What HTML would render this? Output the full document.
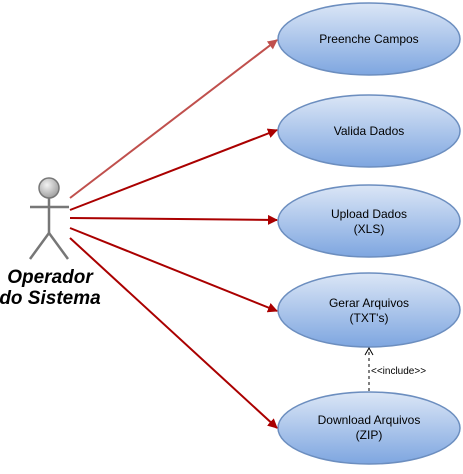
<!DOCTYPE html>
<html><head><style>body{margin:0;background:#fff}</style></head><body>
<svg width="463" height="469" viewBox="0 0 463 469" xmlns="http://www.w3.org/2000/svg" font-family="Liberation Sans, sans-serif">
<defs>
<linearGradient id="g" x1="0" y1="0" x2="0" y2="1"><stop offset="0" stop-color="#dbe6f6"/><stop offset="1" stop-color="#7ea6e0"/></linearGradient>
<radialGradient id="h" cx="0.4" cy="0.35" r="0.7"><stop offset="0" stop-color="#f2f2f2"/><stop offset="1" stop-color="#9a9a9a"/></radialGradient>
<marker id="a" markerWidth="10" markerHeight="10" refX="9" refY="5" orient="auto" markerUnits="userSpaceOnUse"><path d="M0,0 L10,5 L0,10 Z" fill="#a00"/></marker>
<marker id="a2" markerWidth="10" markerHeight="10" refX="9" refY="5" orient="auto" markerUnits="userSpaceOnUse"><path d="M0,0 L10,5 L0,10 Z" fill="#c0504d"/></marker>
</defs>
<g stroke="#6c8ebf" stroke-width="1.5" fill="url(#g)">
<ellipse cx="369" cy="39" rx="91" ry="36"/>
<ellipse cx="369" cy="131" rx="91" ry="36"/>
<ellipse cx="369" cy="221" rx="91" ry="36"/>
<ellipse cx="369" cy="310" rx="91" ry="37"/>
<ellipse cx="369" cy="428" rx="91" ry="36"/>
</g>
<line x1="70" y1="198" x2="277" y2="40" stroke="#c0504d" stroke-width="2" marker-end="url(#a2)"/>
<line x1="70" y1="210" x2="277" y2="130" stroke="#a00" stroke-width="2" marker-end="url(#a)"/>
<line x1="70" y1="218" x2="277" y2="220" stroke="#a00" stroke-width="2" marker-end="url(#a)"/>
<line x1="70" y1="228" x2="277" y2="311" stroke="#a00" stroke-width="2" marker-end="url(#a)"/>
<line x1="70" y1="238" x2="277" y2="428" stroke="#a00" stroke-width="2" marker-end="url(#a)"/>
<line x1="369" y1="391" x2="369" y2="349" stroke="#000" stroke-dasharray="3,3"/>
<path d="M365,355 L369,348 L373,355" fill="none" stroke="#000"/>
<text x="371" y="374" font-size="10">&lt;&lt;include&gt;&gt;</text>
<g font-size="12" text-anchor="middle" fill="#000">
<text x="369" y="43">Preenche Campos</text>
<text x="369" y="135">Valida Dados</text>
<text x="369" y="218">Upload Dados</text><text x="369" y="233">(XLS)</text>
<text x="369" y="307">Gerar Arquivos</text><text x="369" y="322">(TXT's)</text>
<text x="369" y="424">Download Arquivos</text><text x="369" y="439">(ZIP)</text>
</g>
<g stroke="#777" stroke-width="2.5" fill="none">
<line x1="49" y1="198" x2="49" y2="233"/>
<line x1="30" y1="207" x2="69" y2="207"/>
<path d="M30,259 L49,233 L68,259"/>
</g>
<circle cx="49" cy="188" r="10" fill="url(#h)" stroke="#777" stroke-width="1.5"/>
<g font-size="19" font-weight="bold" font-style="italic" text-anchor="middle">
<text x="50" y="283">Operador</text>
<text x="50" y="304">do Sistema</text>
</g>
</svg>
</body></html>
